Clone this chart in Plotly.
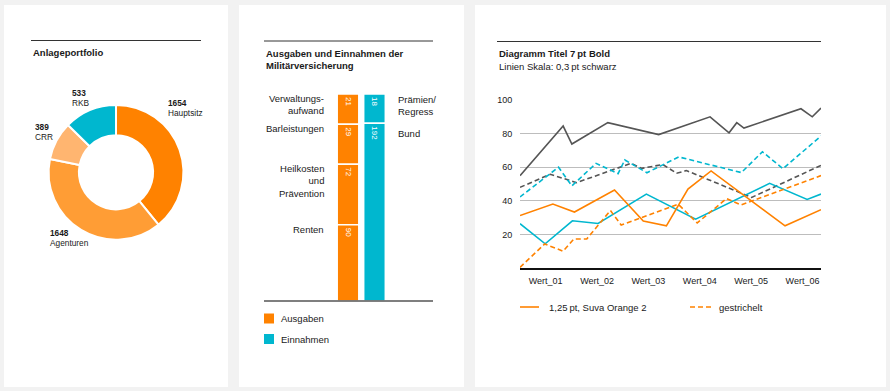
import numpy as np
import plotly.graph_objects as go

# ---------------- data ----------------
# Panel 1: Anlageportfolio (donut)
portfolio_labels = ["Hauptsitz", "Agenturen", "CRR", "RKB"]
portfolio_values = [1654, 1648, 389, 533]

# Panel 2: Ausgaben / Einnahmen (stacked columns, listed top to bottom)
ausgaben_kategorien = ["Verwaltungs-<br>aufwand", "Barleistungen", "Heilkosten<br>und<br>Prävention", "Renten"]
ausgaben_werte = [21, 29, 72, 90]
ausgaben_laengen = [31, 41, 62, 78]        # segment lengths as drawn in the picture
einnahmen_kategorien = ["Prämien/<br>Regress", "Bund"]
einnahmen_werte = [18, 192]
einnahmen_laengen = [30, 182]              # segment lengths as drawn in the picture

# Panel 3: line chart (x in category units, label centres at 0.5, 1.5, ...)
x_labels = ["Wert_01", "Wert_02", "Wert_03", "Wert_04", "Wert_05", "Wert_06"]

grau_solid_x = [0, 0.84, 1.01, 1.71, 2.70, 3.70, 4.07, 4.22, 4.36, 5.47, 5.69, 5.86]
grau_solid_y = [55, 84.5, 73.8, 86.5, 79.4, 90, 80.5, 86.5, 83.3, 94.8, 90, 95.2]

grau_dash_x = [0, 0.59, 1.10, 2.16, 2.37, 2.78, 3.05, 3.24, 4.51, 5.86]
grau_dash_y = [48, 55.8, 50.8, 62.3, 59.3, 61.6, 56.4, 58, 42, 61.1]

cyan_dash_x = [0, 0.75, 1.01, 1.48, 1.91, 2.04, 2.47, 3.09, 4.31, 4.72, 5.12, 5.86]
cyan_dash_y = [42.3, 60, 48.9, 62.3, 56.2, 64.3, 56.7, 66.1, 56.8, 69.2, 59.1, 78.6]

cyan_solid_x = [0, 0.49, 1.02, 1.52, 2.46, 3.42, 4.86, 5.59, 5.86]
cyan_solid_y = [26.4, 14.4, 28.1, 26.5, 44, 29.1, 50.4, 40.8, 44]

orange_dash_x = [0, 0.48, 0.84, 1.05, 1.30, 1.76, 1.97, 3.08, 3.45, 4.02, 4.30, 5.86]
orange_dash_y = [0.4, 14.3, 10, 17.3, 17.3, 34.2, 25.6, 38, 26.8, 41.3, 37.5, 55]

orange_solid_x = [0, 0.64, 1.06, 1.84, 2.40, 2.85, 3.27, 3.72, 5.16, 5.86]
orange_solid_y = [31.2, 38.1, 33.3, 46.4, 28, 25.1, 47, 57.8, 25.1, 34.7]

y_ticks = [20, 40, 60, 80, 100]

# ---------------- styling ----------------
W, H = 890, 391
FONT = "Liberation Sans, Arial, Helvetica, sans-serif"
TXT = "#1a1a1a"
ORANGE = "#ff8200"
ORANGE2 = "#ff9d35"
ORANGE3 = "#ffb570"
CYAN = "#00b7cf"
GREY = "#555555"
portfolio_colors = [ORANGE, ORANGE2, ORANGE3, CYAN]


def X(px):
    return px / W


def Y(py):
    return 1 - py / H


fig = go.Figure()
shapes = []
annotations = []


def ann(text, px, py, size=9.5, bold=False, xanchor="left", color=TXT):
    annotations.append(dict(
        text=f"<b>{text}</b>" if bold else text,
        x=X(px), y=Y(py), xref="paper", yref="paper",
        xanchor=xanchor, yanchor="middle", showarrow=False,
        font=dict(family=FONT, size=size, color=color)))


def hline(x0, x1, py, color, width):
    shapes.append(dict(type="line", xref="paper", yref="paper",
                       x0=X(x0), x1=X(x1), y0=Y(py), y1=Y(py),
                       line=dict(color=color, width=width)))


# panel backgrounds
for (x0, x1) in [(4, 228), (239, 464), (475, 886)]:
    shapes.append(dict(type="rect", xref="paper", yref="paper", layer="below",
                       x0=X(x0), x1=X(x1), y0=Y(387), y1=Y(5),
                       fillcolor="white", line=dict(width=0)))

# ---------- Panel 1: donut ----------
cx, cy, r = 116, 172.3, 67.4
fig.add_trace(go.Pie(
    values=portfolio_values, labels=portfolio_labels, sort=False,
    direction="clockwise", rotation=0, hole=0.55,
    marker=dict(colors=portfolio_colors, line=dict(color="white", width=2)),
    textinfo="none", hoverinfo="label+value", showlegend=False,
    domain=dict(x=[X(cx - r), X(cx + r)], y=[Y(cy + r), Y(cy - r)])))

hline(31, 201, 40.5, "#333333", 1)
ann("Anlageportfolio", 31, 52.3, 9.5, bold=True)

pie_label_pos = {"Hauptsitz": (166, 103.3), "RKB": (70, 93.3), "CRR": (33, 127.3), "Agenturen": (48, 233.3)}
for lab, val in zip(portfolio_labels, portfolio_values):
    px, py = pie_label_pos[lab]
    ann(str(val), px, py, 8.3, bold=True)
    ann(lab, px, py + 10, 8.3)

# ---------- Panel 2: stacked columns ----------
def bases_top_down(lengths):
    lengths = np.asarray(lengths, dtype=float)
    total = lengths.sum()
    tops = total - np.concatenate([[0], np.cumsum(lengths)[:-1]])
    return tops - lengths, tops


a_base, a_tops = bases_top_down(ausgaben_laengen)
e_base, e_tops = bases_top_down(einnahmen_laengen)
ymax = max(sum(ausgaben_laengen), sum(einnahmen_laengen))

for xpos, lens, base, vals, col in [(0, ausgaben_laengen, a_base, ausgaben_werte, ORANGE),
                                     (1, einnahmen_laengen, e_base, einnahmen_werte, CYAN)]:
    fig.add_trace(go.Bar(
        x=[xpos] * len(lens), y=lens, base=base, width=0.815,
        marker=dict(color=col, line=dict(color="white", width=1.5)),
        text=[str(v) for v in vals], textposition="inside", insidetextanchor="end",
        textangle=90, textfont=dict(family=FONT, size=8, color="white"),
        cliponaxis=False, showlegend=False, hoverinfo="skip",
        xaxis="x", yaxis="y"))

for lab, top in zip(ausgaben_kategorien, a_tops):
    annotations.append(dict(text=lab, x=X(326), xref="paper", y=top, yref="y",
                            xanchor="right", yanchor="top", align="right", yshift=3,
                            showarrow=False, font=dict(family=FONT, size=9.5, color=TXT)))
for lab, top, ys in zip(einnahmen_kategorien, e_tops, [2, -3]):
    annotations.append(dict(text=lab, x=X(396), xref="paper", y=top, yref="y",
                            xanchor="left", yanchor="top", align="left", yshift=ys,
                            showarrow=False, font=dict(family=FONT, size=9.5, color=TXT)))

hline(264, 433, 41, "#333333", 1)
ann("Ausgaben und Einnahmen der", 264, 53.3, 9.5, bold=True)
ann("Militärversicherung", 264, 65.8, 9.5, bold=True)
hline(264, 433, 301, "#555555", 1.5)

for py, col, lab in [(318.5, ORANGE, "Ausgaben"), (339, CYAN, "Einnahmen")]:
    shapes.append(dict(type="rect", xref="paper", yref="paper",
                       x0=X(264), x1=X(274), y0=Y(py + 5), y1=Y(py - 5),
                       fillcolor=col, line=dict(width=0)))
    ann(lab, 279, py, 9.5)

# ---------- Panel 3: lines ----------
dash = "5px,3px"
for xs, ys, col, d in [(grau_solid_x, grau_solid_y, GREY, "solid"),
                       (grau_dash_x, grau_dash_y, GREY, dash),
                       (cyan_dash_x, cyan_dash_y, CYAN, dash),
                       (cyan_solid_x, cyan_solid_y, CYAN, "solid"),
                       (orange_dash_x, orange_dash_y, ORANGE, dash),
                       (orange_solid_x, orange_solid_y, ORANGE, "solid")]:
    fig.add_trace(go.Scatter(x=xs, y=ys, mode="lines", xaxis="x2", yaxis="y2",
                             line=dict(color=col, width=1.6, dash=d),
                             showlegend=False, hoverinfo="skip"))

hline(497, 821, 41.5, "#333333", 1)
ann("Diagramm Titel 7\u2009pt Bold", 497, 53.3, 9.5, bold=True)
ann("Linien Skala: 0,3\u2009pt schwarz", 497, 66, 9.5)

hline(520, 539, 307, ORANGE, 1.6)
ann("1,25\u2009pt, Suva Orange 2", 547, 307, 9.5)
shapes.append(dict(type="line", xref="paper", yref="paper", x0=X(690), x1=X(711),
                   y0=Y(307), y1=Y(307), line=dict(color=ORANGE, width=1.6, dash=dash)))
ann("gestrichelt", 717, 307, 9.5)

tick_pos = [i + 0.5 for i in range(len(x_labels))]

fig.update_layout(
    width=W, height=H, margin=dict(l=0, r=0, t=0, b=0, pad=0, autoexpand=False),
    paper_bgcolor="#f2f2f2", plot_bgcolor="rgba(0,0,0,0)",
    barmode="overlay", showlegend=False,
    font=dict(family=FONT, color=TXT),
    xaxis=dict(domain=[X(334.75), X(387.75)], range=[-0.5, 1.5], visible=False, fixedrange=True),
    yaxis=dict(domain=[Y(301), Y(94)], range=[0, ymax], visible=False, fixedrange=True),
    xaxis2=dict(domain=[X(520), X(821)], range=[0, 5.86], anchor="y2",
                tickvals=tick_pos, ticktext=x_labels, showgrid=False, zeroline=False,
                showline=True, linecolor="#111111", linewidth=2,
                ticks="outside", ticklen=3, tickcolor="rgba(0,0,0,0)",
                tickfont=dict(family=FONT, size=9, color=TXT), fixedrange=True),
    yaxis2=dict(domain=[Y(268), Y(100)], range=[0, 100], anchor="x2",
                tickvals=y_ticks, showgrid=True, gridcolor="#bdbdbd", gridwidth=1,
                zeroline=False, showline=False,
                ticks="outside", ticklen=5, tickcolor="rgba(0,0,0,0)",
                tickfont=dict(family=FONT, size=9, color=TXT), fixedrange=True),
    shapes=shapes, annotations=annotations,
)

fig.write_html(
    "out.html",
    config={"displayModeBar": False, "responsive": False},
    post_script=(
        "document.documentElement.style.margin='0';"
        "document.documentElement.style.overflow='hidden';"
        "document.body.style.margin='0';document.body.style.padding='0';"
        "var d=document.getElementById('{plot_id}');"
        "d.style.position='absolute';d.style.top='0px';d.style.left='0px';"
    ),
)
